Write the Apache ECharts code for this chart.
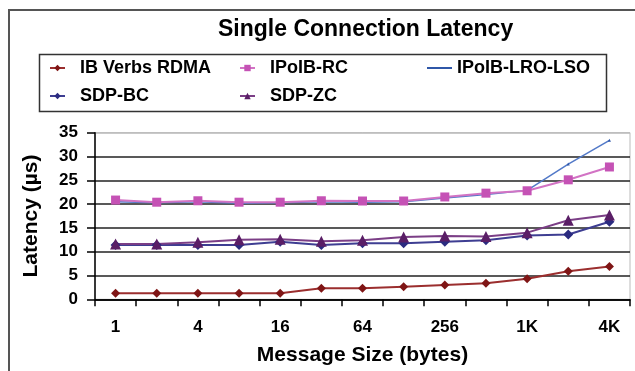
<!DOCTYPE html>
<html>
<head>
<meta charset="utf-8">
<script src="https://cdn.jsdelivr.net/npm/echarts@6/dist/echarts.min.js"></script>
<style>
html,body{margin:0;padding:0;background:#fff;}
#chart{width:635px;height:371px;}
</style>
</head>
<body>
<div id="chart"></div>
<script>
var categories = ['1','2','4','8','16','32','64','128','256','512','1K','2K','4K'];
var ibVerbsRdma = [1.25,1.25,1.25,1.25,1.25,2.3,2.3,2.65,3.0,3.35,4.3,5.9,6.9];
var ipoibRc = [20.85,20.4,20.7,20.4,20.4,20.7,20.65,20.65,21.5,22.3,22.8,25.1,27.8];
var ipoibLroLso = [20.5,20.3,20.5,20.2,20.3,20.5,20.4,20.5,21.3,22.0,22.9,28.4,33.4];
var sdpBc = [11.4,11.4,11.4,11.4,12.1,11.4,11.8,11.8,12.1,12.4,13.4,13.6,16.3];
var sdpZc = [11.6,11.6,12.0,12.5,12.6,12.2,12.4,13.1,13.3,13.2,14.0,16.6,17.7];
var yTicks = [0,5,10,15,20,25,30,35];

var FONT = "'Liberation Sans', Arial, sans-serif";
var chart = echarts.init(document.getElementById('chart'), null, {renderer:'canvas'});

function legendAt(name, left, top, extra) {
  var l = {
    data: [name], left: left, top: top, padding: 0,
    itemWidth: 15, itemHeight: 8, selectedMode: false,
    textStyle: {fontFamily: FONT, fontWeight: 'bold', fontSize: 18, color: '#000', padding: [0,0,0,10]}
  };
  if (extra) for (var k in extra) l[k] = extra[k];
  return l;
}

var option = {
  backgroundColor: '#fff',
  animation: false,
  title: {
    text: 'Single Connection Latency',
    left: 218, top: 18, padding: 0,
    textStyle: {fontFamily: FONT, fontWeight: 'bold', fontSize: 23, color: '#000'}
  },
  graphic: [
    {type:'rect', shape:{x:9, y:10, width:640, height:380}, style:{fill:'none', stroke:'#555', lineWidth:2}, z:-1},
    {type:'rect', shape:{x:39.5, y:54.5, width:567, height:57}, style:{fill:'none', stroke:'#333', lineWidth:1.5}, z:-1}
  ],
  legend: [
    legendAt('IB Verbs RDMA', 49, 59),
    legendAt('IPoIB-RC', 239, 59),
    legendAt({name:'IPoIB-LRO-LSO', icon:'rect'}, 427, 59, {itemWidth: 25, itemHeight: 2,
      textStyle: {fontFamily: FONT, fontWeight: 'bold', fontSize: 18, color: '#000', padding:[0,0,0,0]}}),
    legendAt('SDP-BC', 49, 87),
    legendAt('SDP-ZC', 239, 87)
  ],
  grid: {left: 95, right: 5, top: 132.7, bottom: 71.7, show: true, borderColor: '#bbb', borderWidth: 1, backgroundColor: 'transparent'},
  xAxis: {
    type: 'category', data: categories, boundaryGap: true,
    name: 'Message Size (bytes)', nameLocation: 'middle', nameGap: 45,
    nameTextStyle: {fontFamily: FONT, fontWeight: 'bold', fontSize: 21, color: '#000'},
    axisLine: {show: true, lineStyle: {color: '#000', width: 1.5}},
    axisTick: {show: true, interval: 0, length: 7, lineStyle: {color: '#000', width: 1.5}},
    axisLabel: {interval: 1, margin: 20, fontFamily: FONT, fontWeight: 'bold', fontSize: 17, color: '#000'},
    splitLine: {show: false}
  },
  yAxis: {
    type: 'value', min: 0, max: 35, interval: 5,
    name: 'Latency (µs)', nameLocation: 'middle', nameGap: 53,
    nameTextStyle: {fontFamily: FONT, fontWeight: 'bold', fontSize: 21, color: '#000'},
    axisLine: {show: true, lineStyle: {color: '#000', width: 1.5}},
    axisTick: {show: true, length: 8, lineStyle: {color: '#000', width: 1.5}},
    axisLabel: {margin: 17, fontFamily: FONT, fontWeight: 'bold', fontSize: 17, color: '#000',
      formatter: function(v){ return yTicks.indexOf(v) >= 0 ? String(v) : ''; }},
    splitLine: {show: true, lineStyle: {color: ['#000','#222','#222','#222','#222','#222','#222','#bbb'], width: 1.5}}
  },
  series: [
    {name:'IB Verbs RDMA', type:'line', data: ibVerbsRdma, symbol:'diamond', symbolSize:9, z:3,
      itemStyle:{color:'#7F1515'}, lineStyle:{color:'#9B2E2E', width:2}},
    {name:'IPoIB-RC', type:'line', data: ipoibRc, symbol:'rect', symbolSize:9, z:4,
      itemStyle:{color:'#C552B5'}, lineStyle:{color:'#D273C4', width:2}},
    {name:'IPoIB-LRO-LSO', type:'line', data: ipoibLroLso, symbol:'triangle', symbolSize:3, z:3,
      itemStyle:{color:'#2F57A8'}, lineStyle:{color:'#5279C8', width:1.5}},
    {name:'SDP-BC', type:'line', data: sdpBc, symbol:'diamond', symbolSize:10, z:3,
      itemStyle:{color:'#2B2B80'}, lineStyle:{color:'#3E3E92', width:2}},
    {name:'SDP-ZC', type:'line', data: sdpZc, symbol:'triangle', symbolSize:11, z:3,
      itemStyle:{color:'#5A1E66'}, lineStyle:{color:'#7B3E86', width:2}}
  ]
};
chart.setOption(option);
</script>
</body>
</html>
